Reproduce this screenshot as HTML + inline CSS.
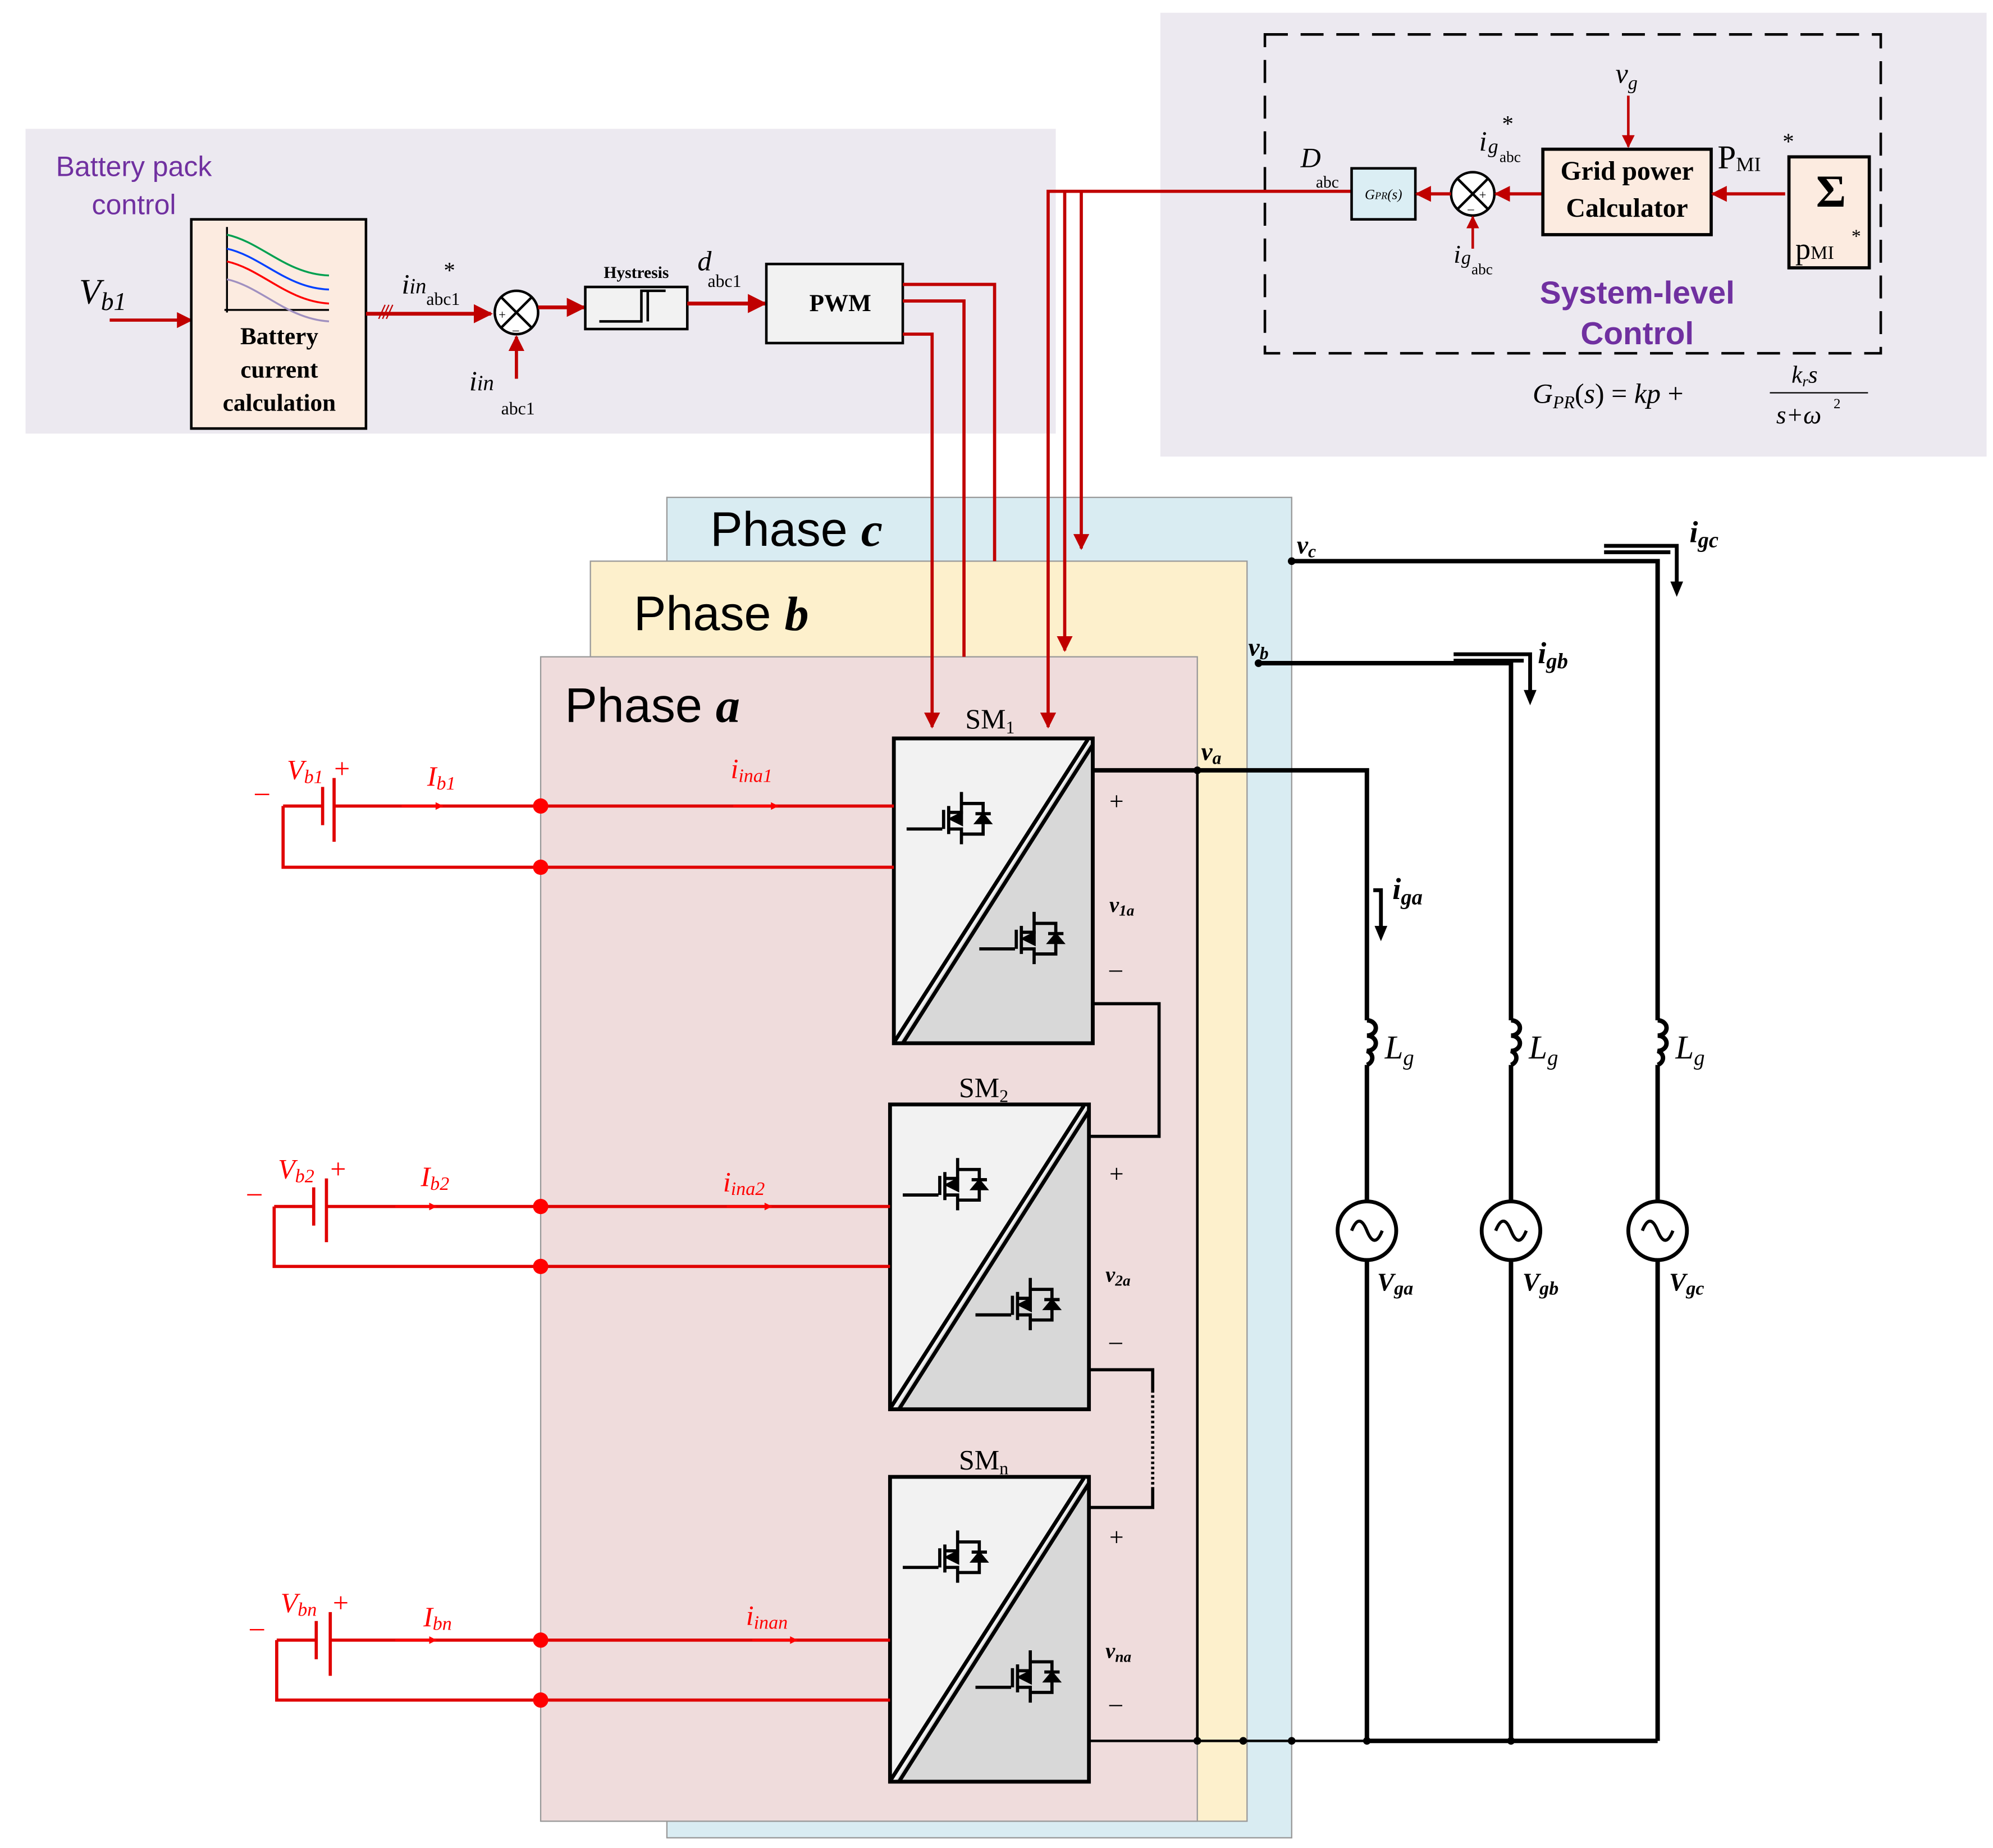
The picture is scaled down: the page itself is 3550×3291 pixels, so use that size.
<!DOCTYPE html>
<html><head><meta charset="utf-8"><style>html,body{margin:0;padding:0;background:#fff}svg{display:block}</style></head><body>
<svg width="3550" height="3291" viewBox="0 0 1563 1449" xmlns="http://www.w3.org/2000/svg" font-family="Liberation Serif, serif">
<defs>
<marker id="ar" viewBox="0 0 10 10" refX="9" refY="5" markerWidth="5" markerHeight="5" orient="auto"><path d="M0,0L10,5L0,10z" fill="#c00000"/></marker>
<marker id="arr" viewBox="0 0 10 10" refX="9" refY="5" markerWidth="5" markerHeight="4" orient="auto"><path d="M0,0L10,5L0,10z" fill="#f00"/></marker>
<g id="mos" stroke="#000" stroke-width="2.5" fill="none">
<path d="M0,0H28M29,-15V0M33,-18V4M33,-13H43V-29M33,0H43V12M43,-20H60V4H43M54,-12H66"/>
<path d="M35,-8L43,-12V-4z" fill="#000"/>
<path d="M60,-11L55,-5H65z" fill="#000"/>
</g>
<g id="sm">
<rect x="0" y="0" width="156" height="239" fill="#f2f2f2"/>
<path d="M4,239L156,0V239z" fill="#d8d8d8"/>
<rect x="0" y="0" width="156" height="239" fill="none" stroke="#000" stroke-width="3"/>
<path d="M1,237L152,1M7,239L156,5" stroke="#000" stroke-width="3"/>
<use href="#mos" x="10" y="71"/>
<use href="#mos" x="67" y="165"/>
</g>
</defs>
<rect x="20" y="101" width="808" height="239" fill="#ece9f0"/>
<rect x="910" y="10" width="648" height="348" fill="#ece9f0"/>
<rect x="992" y="27" width="483" height="250" fill="none" stroke="#000" stroke-width="2" stroke-dasharray="18,10"/>
<rect x="523" y="390" width="490" height="1051" fill="#d9ecf2" stroke="#999"/>
<rect x="463" y="440" width="515" height="988" fill="#fdf0cc" stroke="#999"/>
<rect x="424" y="515" width="515" height="913" fill="#efdcdc" stroke="#999"/>
<text x="557" y="428" font-size="38" font-family="Liberation Sans, sans-serif">Phase <tspan font-family="Liberation Serif" font-style="italic" font-weight="bold">c</tspan></text>
<text x="497" y="494" font-size="38" font-family="Liberation Sans, sans-serif">Phase <tspan font-family="Liberation Serif" font-style="italic" font-weight="bold">b</tspan></text>
<text x="443" y="566" font-size="38" font-family="Liberation Sans, sans-serif">Phase <tspan font-family="Liberation Serif" font-style="italic" font-weight="bold">a</tspan></text>
<text x="105" y="138" font-size="22" fill="#7030a0" text-anchor="middle" font-family="Liberation Sans, sans-serif">Battery pack</text>
<text x="105" y="168" font-size="22" fill="#7030a0" text-anchor="middle" font-family="Liberation Sans, sans-serif">control</text>
<text x="62" y="238" font-size="28" font-style="italic">V<tspan font-size="20" dy="5">b1</tspan></text>
<line x1="86" y1="251" x2="150" y2="251" stroke="#c00000" stroke-width="2.5" marker-end="url(#ar)"/>
<rect x="150" y="172" width="137" height="164" fill="#fcebe0" stroke="#000" stroke-width="2"/>
<path d="M178,178V245M176,243H258" stroke="#000" stroke-width="1.5" fill="none"/>
<path d="M178,184C205,190 225,215 258,216" stroke="#00a050" stroke-width="1.5" fill="none"/>
<path d="M178,195C205,201 225,226 258,227" stroke="#0040ff" stroke-width="1.5" fill="none"/>
<path d="M178,205C205,211 225,236 258,238" stroke="#ff0000" stroke-width="1.5" fill="none"/>
<path d="M178,219C205,225 225,250 258,252" stroke="#a090c0" stroke-width="1.5" fill="none"/>
<g font-weight="bold" font-size="19" text-anchor="middle"><text x="219" y="270">Battery</text><text x="219" y="296">current</text><text x="219" y="322">calculation</text></g>
<line x1="287" y1="246" x2="385" y2="246" stroke="#c00000" stroke-width="3" marker-end="url(#ar)"/>
<path d="M297,250l5,-11M300,250l5,-11M303,250l5,-11" stroke="#c00000" stroke-width="1"/>
<text x="315" y="230" font-size="22" font-style="italic">i<tspan font-size="17">in</tspan><tspan font-size="14" font-style="normal" dy="9">abc1</tspan></text>
<text x="348" y="218" font-size="18">*</text>
<circle cx="405" cy="245" r="17" fill="#fff" stroke="#000" stroke-width="2"/>
<path d="M393,233l24,24M417,233l-24,24" stroke="#000" stroke-width="2"/>
<text x="391" y="250" font-size="10">+</text><text x="402" y="262" font-size="10">–</text>
<line x1="405" y1="297" x2="405" y2="264" stroke="#c00000" stroke-width="2.5" marker-end="url(#ar)"/>
<text x="368" y="306" font-size="22" font-style="italic">i<tspan font-size="17">in</tspan></text><text x="393" y="325" font-size="14">abc1</text>
<line x1="422" y1="241" x2="458" y2="241" stroke="#c00000" stroke-width="3" marker-end="url(#ar)"/>
<rect x="459" y="225" width="80" height="33" fill="#f2f2f2" stroke="#000" stroke-width="2"/>
<path d="M470,252H503V228H522M508,252V228" stroke="#000" stroke-width="2" fill="none"/>
<text x="499" y="218" font-size="13" font-weight="bold" text-anchor="middle">Hystresis</text>
<line x1="539" y1="238" x2="600" y2="238" stroke="#c00000" stroke-width="3" marker-end="url(#ar)"/>
<text x="547" y="212" font-size="22" font-style="italic">d</text><text x="555" y="225" font-size="14">abc1</text>
<rect x="601" y="207" width="107" height="62" fill="#f2f2f2" stroke="#000" stroke-width="2"/>
<text x="659" y="244" font-size="19" font-weight="bold" text-anchor="middle">PWM</text>
<g stroke="#c00000" stroke-width="2.5" fill="none">
<path d="M708,223H780V440"/>
<path d="M708,236H756V515"/>
<path d="M708,262H731V570" marker-end="url(#ar)"/>
<path d="M1060,150H822V570" marker-end="url(#ar)"/>
<path d="M835,150V510" marker-end="url(#ar)"/>
<path d="M848,150V430" marker-end="url(#ar)"/>
</g>
<rect x="1060" y="132" width="50" height="40" fill="#dbeef4" stroke="#000" stroke-width="2"/>
<text x="1085" y="156" font-size="11" font-style="italic" text-anchor="middle">G<tspan font-size="8">PR</tspan>(s)</text>
<text x="1020" y="131" font-size="22" font-style="italic">D</text><text x="1032" y="147" font-size="13">abc</text>
<circle cx="1155" cy="152" r="17" fill="#fff" stroke="#000" stroke-width="2"/>
<path d="M1143,140l24,24M1167,140l-24,24" stroke="#000" stroke-width="2"/>
<text x="1160" y="156" font-size="10">+</text><text x="1151" y="167" font-size="10">–</text>
<line x1="1138" y1="152" x2="1111" y2="152" stroke="#c00000" stroke-width="2.5" marker-end="url(#ar)"/>
<line x1="1210" y1="152" x2="1173" y2="152" stroke="#c00000" stroke-width="2.5" marker-end="url(#ar)"/>
<line x1="1155" y1="195" x2="1155" y2="170" stroke="#c00000" stroke-width="2" marker-end="url(#ar)"/>
<text x="1160" y="118" font-size="22" font-style="italic">i</text><text x="1167" y="120" font-size="16" font-style="italic">g</text><text x="1176" y="127" font-size="12">abc</text><text x="1178" y="103" font-size="18">*</text>
<text x="1140" y="206" font-size="20" font-style="italic">i</text><text x="1146" y="207" font-size="15" font-style="italic">g</text><text x="1154" y="215" font-size="12">abc</text>
<rect x="1210" y="117" width="132" height="67" fill="#fcebe0" stroke="#000" stroke-width="2.5"/>
<text x="1276" y="141" font-size="21" font-weight="bold" text-anchor="middle">Grid power</text>
<text x="1276" y="170" font-size="21" font-weight="bold" text-anchor="middle">Calculator</text>
<line x1="1277" y1="75" x2="1277" y2="115" stroke="#c00000" stroke-width="2" marker-end="url(#ar)"/>
<text x="1267" y="65" font-size="22" font-style="italic">v<tspan font-size="15" dy="5">g</tspan></text>
<text x="1347" y="132" font-size="26">P<tspan font-size="16" dy="2">MI</tspan></text><text x="1398" y="117" font-size="18">*</text>
<line x1="1400" y1="152" x2="1343" y2="152" stroke="#c00000" stroke-width="2.5" marker-end="url(#ar)"/>
<rect x="1403" y="123" width="63" height="87" fill="#fcebe0" stroke="#000" stroke-width="2.5"/>
<text x="1436" y="162" font-size="36" font-weight="bold" text-anchor="middle">Σ</text>
<text x="1408" y="203" font-size="24">p<tspan font-size="15">MI</tspan></text><text x="1452" y="190" font-size="15">*</text>
<text x="1284" y="238" font-size="25" font-weight="bold" fill="#7030a0" text-anchor="middle" font-family="Liberation Sans, sans-serif">System-level</text>
<text x="1284" y="270" font-size="25" font-weight="bold" fill="#7030a0" text-anchor="middle" font-family="Liberation Sans, sans-serif">Control</text>
<text x="1202" y="316" font-size="22" font-style="italic">G<tspan font-size="14" dy="4">PR</tspan><tspan dy="-4" font-style="normal">(</tspan>s<tspan font-style="normal">) = </tspan>kp<tspan font-style="normal">  +</tspan></text>
<text x="1405" y="300" font-size="19" font-style="italic">k<tspan font-size="12" dy="3">r</tspan><tspan dy="-3">s</tspan></text>
<line x1="1388" y1="308" x2="1465" y2="308" stroke="#000" stroke-width="1"/>
<text x="1393" y="332" font-size="20" font-style="italic">s+ω</text><text x="1438" y="320" font-size="11">2</text>
<use href="#sm" x="701" y="579"/>
<use href="#sm" x="698" y="866"/>
<use href="#sm" x="698" y="1158"/>
<text x="757" y="571" font-size="22">SM<tspan font-size="14" dy="4">1</tspan></text>
<text x="752" y="860" font-size="22">SM<tspan font-size="14" dy="4">2</tspan></text>
<text x="752" y="1152" font-size="22">SM<tspan font-size="14" dy="4">n</tspan></text>
<g font-size="20"><text x="870" y="635">+</text><text x="870" y="766">–</text><text x="870" y="927">+</text><text x="870" y="1058">–</text><text x="870" y="1212">+</text><text x="870" y="1342">–</text></g>
<g font-size="17" font-style="italic" font-weight="bold"><text x="870" y="715">v<tspan font-size="12" dy="3">1a</tspan></text><text x="867" y="1005">v<tspan font-size="12" dy="3">2a</tspan></text><text x="867" y="1300">v<tspan font-size="12" dy="3">na</tspan></text></g>
<g stroke="#000" stroke-width="2.5" fill="none">
<path d="M857,787H909V891H854"/>
<path d="M854,1074H904V1090"/>
<path d="M904,1090V1166" stroke-dasharray="2,2"/>
<path d="M904,1166V1182H854"/>
</g>
<g stroke="#000" stroke-width="3.5" fill="none">
<path d="M857,604H1072V800M1072,835V942M1072,988V1365"/>
<path d="M987,520H1185V800M1185,835V942M1185,988V1365"/>
<path d="M1013,440H1300V800M1300,835V942M1300,988V1365"/>
<path d="M1072,800a7,6 0 0 1 0,12a7,6 0 0 1 0,12a7,6 0 0 1 0,11"/>
<path d="M1185,800a7,6 0 0 1 0,12a7,6 0 0 1 0,12a7,6 0 0 1 0,11"/>
<path d="M1300,800a7,6 0 0 1 0,12a7,6 0 0 1 0,12a7,6 0 0 1 0,11"/>
<circle cx="1072" cy="965" r="23" stroke-width="3"/><circle cx="1185" cy="965" r="23" stroke-width="3"/><circle cx="1300" cy="965" r="23" stroke-width="3"/>
<path d="M1060,965c4,-10 8,-10 12,0s8,10 12,0M1173,965c4,-10 8,-10 12,0s8,10 12,0M1288,965c4,-10 8,-10 12,0s8,10 12,0" stroke-width="2.5"/>
<path d="M1072,1365H1300"/>
</g>
<path d="M939,604V1365M853,1365H1072" stroke="#000" stroke-width="2" fill="none"/>
<g fill="#000"><circle cx="939" cy="604" r="3"/><circle cx="939" cy="1365" r="3"/><circle cx="975" cy="1365" r="3"/><circle cx="1013" cy="1365" r="3"/><circle cx="1072" cy="1365" r="3"/><circle cx="1185" cy="1365" r="3"/><circle cx="1013" cy="440" r="3"/><circle cx="987" cy="520" r="3"/></g>
<path d="M1258,428H1315V458M1258,433H1310" stroke="#000" stroke-width="3" fill="none"/><path d="M1310,456l5,12 5,-12z" fill="#000"/>
<path d="M1140,513H1200V543M1140,518H1195" stroke="#000" stroke-width="3" fill="none"/><path d="M1195,541l5,12 5,-12z" fill="#000"/>
<path d="M1077,698H1083V728" stroke="#000" stroke-width="3" fill="none"/><path d="M1078,726l5,12 5,-12z" fill="#000"/>
<g font-style="italic" font-weight="bold"><text x="1017" y="434" font-size="20">v<tspan font-size="14" dy="3">c</tspan></text><text x="979" y="514" font-size="20">v<tspan font-size="14" dy="3">b</tspan></text><text x="942" y="596" font-size="20">v<tspan font-size="14" dy="3">a</tspan></text>
<text x="1325" y="425" font-size="24">i<tspan font-size="17" dy="4">gc</tspan></text><text x="1206" y="520" font-size="24">i<tspan font-size="17" dy="4">gb</tspan></text><text x="1092" y="705" font-size="24">i<tspan font-size="17" dy="4">ga</tspan></text></g>
<g font-style="italic" font-size="26"><text x="1086" y="830">L<tspan font-size="17" dy="5">g</tspan></text><text x="1199" y="830">L<tspan font-size="17" dy="5">g</tspan></text><text x="1314" y="830">L<tspan font-size="17" dy="5">g</tspan></text></g>
<g font-style="italic" font-weight="bold" font-size="20"><text x="1080" y="1012">V<tspan font-size="15" dy="3">ga</tspan></text><text x="1194" y="1012">V<tspan font-size="15" dy="3">gb</tspan></text><text x="1309" y="1012">V<tspan font-size="15" dy="3">gc</tspan></text></g>
<g stroke="#e00000" stroke-width="2.5" fill="none">
<path d="M222,632H253M253,617V647M262,610V660M262,632H701M222,632V680H701"/>
<path d="M215,946H246M246,931V961M256,924V974M256,946H698M215,946V993H698"/>
<path d="M217,1286H248M248,1271V1301M259,1264V1314M259,1286H698M217,1286V1333H698"/>
</g>
<g fill="#f00"><circle cx="424" cy="632" r="6"/><circle cx="424" cy="680" r="6"/><circle cx="424" cy="946" r="6"/><circle cx="424" cy="993" r="6"/><circle cx="424" cy="1286" r="6"/><circle cx="424" cy="1333" r="6"/></g>
<g stroke="#f00" stroke-width="1.5"><line x1="315" y1="632" x2="347" y2="632" marker-end="url(#arr)"/><line x1="575" y1="632" x2="610" y2="632" marker-end="url(#arr)"/><line x1="310" y1="946" x2="342" y2="946" marker-end="url(#arr)"/><line x1="570" y1="946" x2="605" y2="946" marker-end="url(#arr)"/><line x1="310" y1="1286" x2="342" y2="1286" marker-end="url(#arr)"/><line x1="590" y1="1286" x2="625" y2="1286" marker-end="url(#arr)"/></g>
<g fill="#f00" font-style="italic" font-size="22">
<text x="225" y="611">V<tspan font-size="15" dy="3">b1</tspan></text><text x="218" y="924">V<tspan font-size="15" dy="3">b2</tspan></text><text x="220" y="1264">V<tspan font-size="15" dy="3">bn</tspan></text>
<text x="335" y="616">I<tspan font-size="15" dy="3">b1</tspan></text><text x="330" y="930">I<tspan font-size="15" dy="3">b2</tspan></text><text x="332" y="1275">I<tspan font-size="15" dy="3">bn</tspan></text>
<text x="573" y="610">i<tspan font-size="15" dy="3">ina1</tspan></text><text x="567" y="934">i<tspan font-size="15" dy="3">ina2</tspan></text><text x="585" y="1274">i<tspan font-size="15" dy="3">inan</tspan></text>
</g>
<g fill="#f00" font-size="22"><text x="262" y="610">+</text><text x="200" y="628">–</text><text x="259" y="924">+</text><text x="194" y="942">–</text><text x="261" y="1264">+</text><text x="196" y="1283">–</text></g>
</svg>
</body></html>
